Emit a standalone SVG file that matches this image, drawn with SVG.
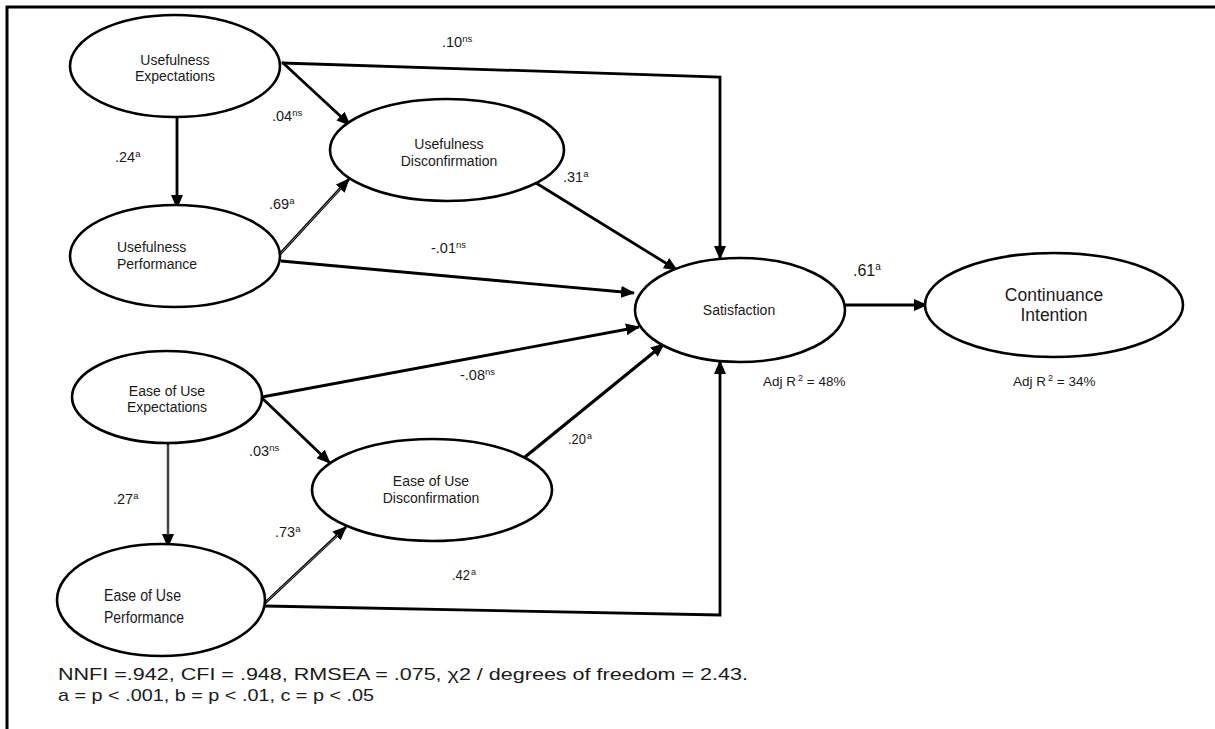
<svg xmlns="http://www.w3.org/2000/svg" width="1215" height="729" viewBox="0 0 1215 729">
  <style>
    .node ellipse { fill: #fff; stroke: #000; stroke-width: 2.6; }
    .lbl { font-family: "Liberation Sans", Arial, sans-serif; font-size: 14px; fill: #1a1a1a; }
    .mid { text-anchor: middle; }
    .coef { font-family: "Liberation Sans", Arial, sans-serif; font-size: 14.5px; fill: #1a1a1a; }
    .narrow { font-family: "Liberation Sans", Arial, sans-serif; fill: #1a1a1a; }
    .conn { fill: none; stroke: #000; stroke-width: 2.8; }
    .thin { stroke-width: 2.4; }
    .core { fill: none; stroke: #9a9a9a; stroke-width: 0.9; }
    .frame { stroke: #000; stroke-width: 3; fill: none; }
  </style>
  <defs>
    <marker id="arrow" viewBox="0 0 14 12" refX="13" refY="6" markerWidth="14" markerHeight="12" markerUnits="userSpaceOnUse" orient="auto">
      <path d="M0,0 L14,6 L0,12 z" fill="#000"/>
    </marker>
  </defs>

  <rect width="1215" height="729" fill="#fff"/>
  <!-- open frame: top and left rules only -->
  <path class="frame" d="M7,729 L7,7 L1215,7"/>

  <!-- connectors -->
  <g id="connectors">
    <line class="conn" x1="177" y1="117" x2="177" y2="208" marker-end="url(#arrow)"/>
    <line class="conn" x1="282" y1="62" x2="350" y2="125" marker-end="url(#arrow)"/>
    <path class="conn" d="M282,63 L720,77 L720,259" marker-end="url(#arrow)"/>
    <line class="conn" x1="280" y1="254" x2="349" y2="179" marker-end="url(#arrow)"/>
    <line class="core" x1="281" y1="253" x2="341" y2="188"/>
    <line class="conn" x1="536" y1="183" x2="677" y2="270" marker-end="url(#arrow)"/>
    <line class="conn" x1="281" y1="261" x2="634" y2="293" marker-end="url(#arrow)"/>
    <line class="conn" x1="262" y1="397" x2="639" y2="327" marker-end="url(#arrow)"/>
    <line class="conn" x1="262" y1="398" x2="330" y2="463" marker-end="url(#arrow)"/>
    <line class="conn thin" x1="168" y1="443" x2="168" y2="547" marker-end="url(#arrow)"/>
    <line class="core" x1="168" y1="445" x2="168" y2="535"/>
    <line class="conn" x1="265" y1="603" x2="346" y2="527" marker-end="url(#arrow)"/>
    <line class="core" x1="266" y1="602" x2="338" y2="535"/>
    <line class="conn" x1="525" y1="457" x2="664" y2="344" marker-end="url(#arrow)" style="stroke-width:3.2"/>
    <path class="conn" d="M265,606 L720,615 L720,361" marker-end="url(#arrow)"/>
    <line class="conn" x1="845" y1="305" x2="927" y2="305" marker-end="url(#arrow)"/>
  </g>

  <g id="usefulness-expectations" class="node">
    <ellipse cx="175" cy="66" rx="105" ry="51"/>
    <text class="lbl mid" x="175" y="65">Usefulness</text>
    <text class="lbl mid" x="175" y="81">Expectations</text>
  </g>

  <g id="usefulness-performance" class="node">
    <ellipse cx="175" cy="256" rx="105" ry="51"/>
    <text class="lbl" x="117" y="252">Usefulness</text>
    <text class="lbl" x="117" y="269">Performance</text>
  </g>

  <g id="usefulness-disconfirmation" class="node">
    <ellipse cx="447" cy="150" rx="117" ry="51"/>
    <text class="lbl mid" x="449" y="149">Usefulness</text>
    <text class="lbl mid" x="449" y="166">Disconfirmation</text>
  </g>

  <g id="ease-of-use-expectations" class="node">
    <ellipse cx="167" cy="397" rx="95" ry="46"/>
    <text class="lbl mid" x="167" y="396">Ease of Use</text>
    <text class="lbl mid" x="167" y="412">Expectations</text>
  </g>

  <g id="ease-of-use-disconfirmation" class="node">
    <ellipse cx="432" cy="490" rx="120" ry="51"/>
    <text class="lbl mid" x="431" y="486">Ease of Use</text>
    <text class="lbl mid" x="431" y="503">Disconfirmation</text>
  </g>

  <g id="ease-of-use-performance" class="node">
    <ellipse cx="161" cy="600" rx="104" ry="56"/>
    <text class="narrow" x="104" y="601" font-size="16" textLength="77" lengthAdjust="spacingAndGlyphs">Ease of Use</text>
    <text class="narrow" x="104" y="623" font-size="16" textLength="80" lengthAdjust="spacingAndGlyphs">Performance</text>
  </g>

  <g id="satisfaction" class="node">
    <ellipse cx="740" cy="310" rx="105" ry="52"/>
    <text class="lbl mid" x="739" y="315">Satisfaction</text>
  </g>

  <g id="continuance-intention" class="node">
    <ellipse cx="1054" cy="305" rx="129" ry="52"/>
    <text class="lbl mid" x="1054" y="301" style="font-size:17.5px">Continuance</text>
    <text class="lbl mid" x="1054" y="321" style="font-size:17.5px">Intention</text>
  </g>

  <!-- path coefficients -->
  <g id="coefficients">
    <text class="coef" x="442" y="47">.10<tspan font-size="9.5" dy="-5">ns</tspan></text>
    <text class="coef" x="272" y="121">.04<tspan font-size="9.5" dy="-5">ns</tspan></text>
    <text class="coef" x="115" y="162">.24<tspan font-size="9.5" dy="-5">a</tspan></text>
    <text class="coef" x="269" y="209">.69<tspan font-size="9.5" dy="-5">a</tspan></text>
    <text class="coef" x="563" y="182">.31<tspan font-size="9.5" dy="-5">a</tspan></text>
    <text class="coef" x="431" y="253">-.01<tspan font-size="9.5" dy="-5">ns</tspan></text>
    <text class="coef" x="460" y="380">-.08<tspan font-size="9.5" dy="-5">ns</tspan></text>
    <text class="coef" x="249" y="456">.03<tspan font-size="9.5" dy="-5">ns</tspan></text>
    <text class="coef" x="113" y="504">.27<tspan font-size="9.5" dy="-5">a</tspan></text>
    <text class="coef" x="275" y="537">.73<tspan font-size="9.5" dy="-5">a</tspan></text>
    <text class="narrow" x="568" y="444" font-size="14.5" textLength="18" lengthAdjust="spacingAndGlyphs">.20</text>
    <text class="narrow" x="587" y="439" font-size="9">a</text>
    <text class="narrow" x="452" y="580" font-size="14.5" textLength="18" lengthAdjust="spacingAndGlyphs">.42</text>
    <text class="narrow" x="471" y="575" font-size="9">a</text>
    <text class="coef" x="853" y="276" style="font-size:16px">.61<tspan font-size="10" dy="-6">a</tspan></text>
  </g>

  <!-- explained variance -->
  <g id="r-squared">
    <text class="lbl" x="763" y="386" style="font-size:13.5px">Adj R<tspan font-size="9" dx="2" dy="-5">2</tspan><tspan dy="5"> = 48%</tspan></text>
    <text class="lbl" x="1013" y="386" style="font-size:13.5px">Adj R<tspan font-size="9" dx="2" dy="-5">2</tspan><tspan dy="5"> = 34%</tspan></text>
  </g>

  <!-- fit statistics -->
  <g id="notes">
    <text class="narrow" x="58" y="680" font-size="17" textLength="690" lengthAdjust="spacingAndGlyphs">NNFI =.942, CFI = .948, RMSEA = .075, χ2 / degrees of freedom = 2.43.</text>
    <text class="narrow" x="58" y="701" font-size="17" textLength="316" lengthAdjust="spacingAndGlyphs">a = p &lt; .001, b = p &lt; .01, c = p &lt; .05</text>
  </g>
</svg>
